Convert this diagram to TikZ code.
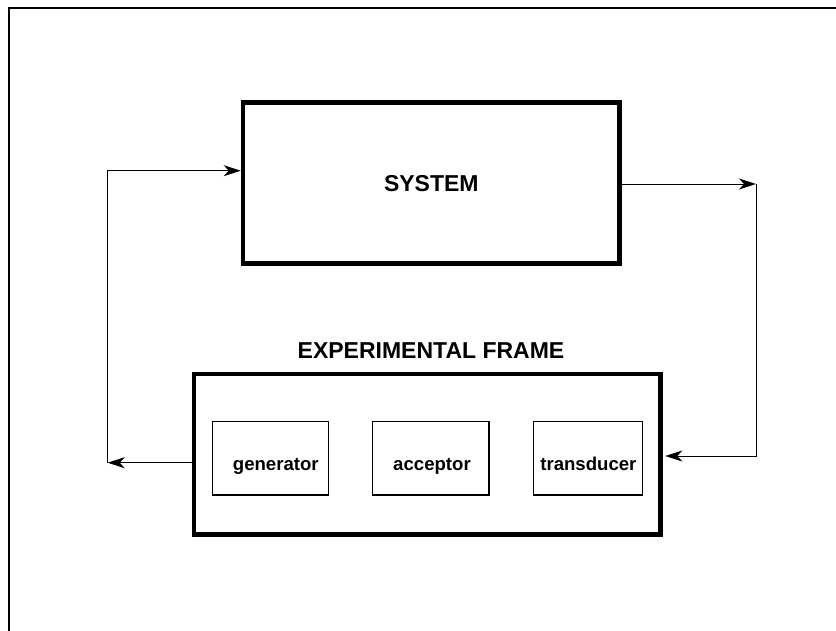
\documentclass[tikz,border=0pt]{standalone}
\usepackage{fontspec}
\setmainfont{Liberation Sans}
\usetikzlibrary{arrows.meta}
\begin{document}
\begin{tikzpicture}[x=1pt,y=-1pt,
  bigbox/.style={draw=black, line width=4.5pt, rectangle, inner sep=0pt},
  subbox/.style={draw=black, line width=1.4pt, rectangle, inner sep=0pt, minimum height=73.7pt},
  bigtext/.style={font=\fontsize{23}{27}\selectfont\bfseries, inner sep=0pt},
  smalltext/.style={font=\fontsize{18.6}{22}\selectfont\bfseries, inner sep=0pt, anchor=base},
  conn/.style={draw=black, line width=0.9pt, -{Stealth[length=17pt,width=11pt,inset=5pt]}},
  frameline/.style={draw=black, line width=2pt}
]
\useasboundingbox (0,0) rectangle (836,631);
% outer frame (top and left edges only)
\draw[frameline] (9,640) -- (9,8) -- (845,8);

% main boxes
\node[bigbox, minimum width=376.7pt, minimum height=161pt, bigtext] (sys) at (431.3,183.2) {SYSTEM};
\node[bigbox, minimum width=466.5pt, minimum height=160.5pt] (ef) at (427.3,454.3) {};
\node[bigtext, anchor=base] (eft) at (431,358.3) {EXPERIMENTAL FRAME};

% sub boxes
\node[subbox, minimum width=115.6pt] (gen) at (270.5,458.2) {};
\node[subbox, minimum width=116.3pt] (acc) at (430.9,458.2) {};
\node[subbox, minimum width=109.4pt] (tra) at (588,458.2) {};
\node[smalltext] (gent) at (275.8,470.5) {generator};
\node[smalltext] (acct) at (432,470.5) {acceptor};
\node[smalltext] (trat) at (588.4,470.5) {transducer};

% connector corners
\coordinate (cl) at (107.7,462.7);
\coordinate (ctl) at (107.7,170.7);
\coordinate (cr) at (756,184);
\coordinate (crb) at (756,456);

% connectors
\draw[conn] (cl -| ef.west) -- (cl);
\draw[conn] (cl) -- (ctl) -- (ctl -| sys.west);
\draw[conn] (cr -| sys.east) -- (cr);
\draw[conn, shorten >=2.5pt] (cr) -- (crb) -- (crb -| ef.east);
\end{tikzpicture}
\end{document}
